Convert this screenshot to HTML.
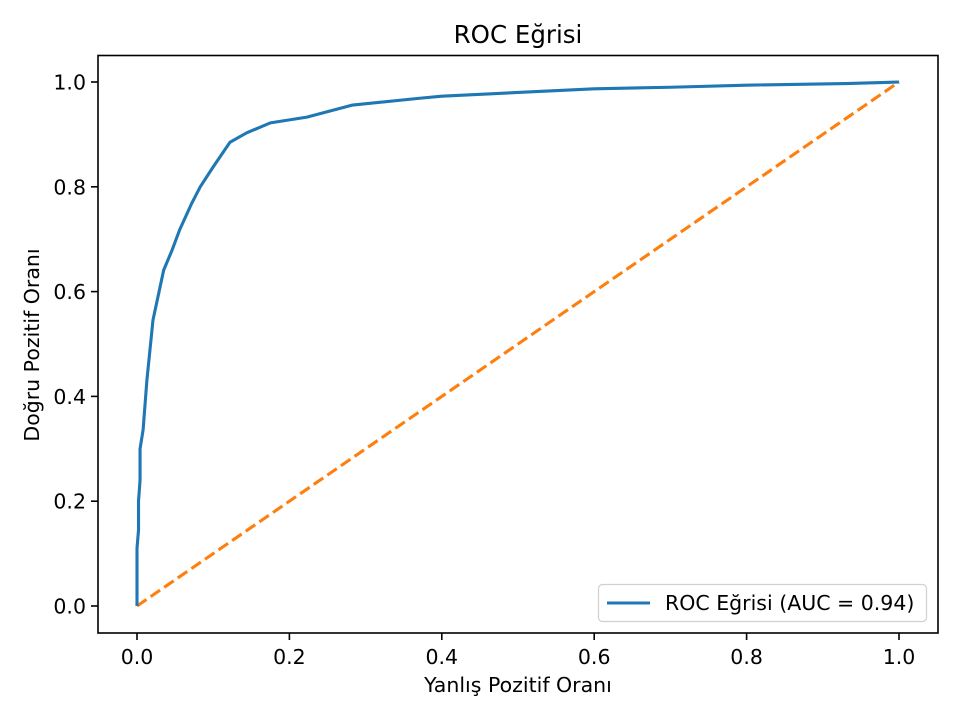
<!DOCTYPE html>
<html><head><meta charset="utf-8"><style>
html,body{margin:0;padding:0;background:#fff}
svg{display:block;font-family:"DejaVu Sans","Liberation Sans",sans-serif}
</style></head><body>
<svg id="chart" width="960" height="720" viewBox="0 0 960 720" xmlns="http://www.w3.org/2000/svg">
<rect x="0" y="0" width="960" height="720" fill="#fff"/>
<text x="518" y="43" font-size="24.5" text-anchor="middle" fill="#000">ROC Eğrisi</text>
<g id="plot"></g>
<rect x="98" y="55.5" width="840" height="577.5" fill="none" stroke="#000" stroke-width="1.6"/>
<g id="ticks"></g>
<text x="518" y="692" font-size="20.5" text-anchor="middle">Yanlış Pozitif Oranı</text>
<text transform="translate(39,345) rotate(-90)" font-size="20.5" text-anchor="middle">Doğru Pozitif Oranı</text>
<g>
<rect x="598.5" y="584.5" width="328" height="37" rx="4" fill="#fff" fill-opacity="0.8" stroke="#d0d0d0" stroke-width="1.2"/>
<line x1="607" y1="603" x2="650" y2="603" stroke="#1f77b4" stroke-width="3.1"/>
<text x="665" y="610" font-size="20.5">ROC Eğrisi (AUC = 0.94)</text>
</g>
</svg>
<script>
const fpr = [0,0,0.002,0.002,0.004,0.004,0.008,0.013,0.021,0.035,0.046,0.056,0.072,0.083,0.100,0.122,0.144,0.175,0.223,0.283,0.371,0.4,0.5,0.6,0.7,0.8,0.93,1];
const tpr = [0,0.11,0.145,0.20,0.24,0.30,0.336,0.431,0.546,0.641,0.679,0.718,0.769,0.800,0.838,0.885,0.903,0.922,0.933,0.956,0.969,0.973,0.98,0.987,0.99,0.994,0.997,1];
const chanceX = [0,1];
const chanceY = [0,1];
const xTicks = [0,0.2,0.4,0.6,0.8,1.0];
const yTicks = [0,0.2,0.4,0.6,0.8,1.0];
const xTickLabels = ["0.0","0.2","0.4","0.6","0.8","1.0"];
const yTickLabels = ["0.0","0.2","0.4","0.6","0.8","1.0"];

const NS="http://www.w3.org/2000/svg";
const X0=137, X1=899, Y0=606, Y1=82;
const sx=v=>X0+(X1-X0)*v;
const sy=v=>Y0-(Y0-Y1)*v;
const plot=document.getElementById('plot');
const ticks=document.getElementById('ticks');
function mk(t,a){const e=document.createElementNS(NS,t);for(const k in a)e.setAttribute(k,a[k]);return e;}

const chance=mk('polyline',{points:chanceX.map((v,i)=>sx(v)+','+sy(chanceY[i])).join(' '),fill:'none',stroke:'#ff7f0e','stroke-width':3.1,'stroke-dasharray':'11.5 5'});


plot.appendChild(chance);

const roc=mk('polyline',{points:fpr.map((v,i)=>sx(v)+','+sy(tpr[i])).join(' '),fill:'none',stroke:'#1f77b4','stroke-width':3.1,'stroke-linejoin':'round'});


plot.appendChild(roc);

xTicks.forEach((v,i)=>{
  const l=mk('line',{x1:sx(v),x2:sx(v),y1:633,y2:640,stroke:'#000','stroke-width':1.6});
  
  
  ticks.appendChild(l);
  const t=mk('text',{x:sx(v),y:664,'font-size':20.5,'text-anchor':'middle'});
  
  
  t.textContent=xTickLabels[i];ticks.appendChild(t);
});
yTicks.forEach((v,i)=>{
  const l=mk('line',{x1:91,x2:98,y1:sy(v),y2:sy(v),stroke:'#000','stroke-width':1.6});
  
  
  ticks.appendChild(l);
  const t=mk('text',{x:86,y:sy(v)+7.5,'font-size':20.5,'text-anchor':'end'});
  
  
  t.textContent=yTickLabels[i];ticks.appendChild(t);
});
</script>
</body></html>
